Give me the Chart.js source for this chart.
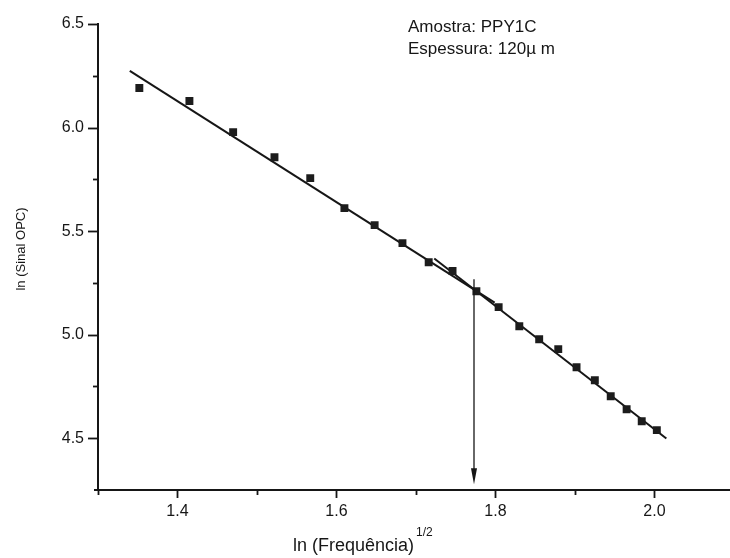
<!DOCTYPE html>
<html>
<head>
<meta charset="utf-8">
<script src="https://cdn.jsdelivr.net/npm/chart.js@4.4.1/dist/chart.umd.min.js"></script>
<style>
  html, body { margin: 0; padding: 0; background: #fff; }
  #wrap { width: 730px; height: 558px; position: relative; }
</style>
</head>
<body>
<div id="wrap"><canvas id="c" width="730" height="558"></canvas></div>
<script>
// ---- data ----
const freqX = [1.352, 1.415, 1.470, 1.522, 1.567, 1.610, 1.648, 1.683, 1.716, 1.746, 1.776,
               1.804, 1.830, 1.855, 1.879, 1.902, 1.925, 1.945, 1.965, 1.984, 2.003];
const signalY = [6.191, 6.128, 5.978, 5.857, 5.756, 5.611, 5.529, 5.442, 5.350, 5.307, 5.210,
                 5.133, 5.041, 4.978, 4.930, 4.843, 4.780, 4.703, 4.640, 4.582, 4.539];
const fit1X = [1.340, 1.799];
const fit1Y = [6.274, 5.155];
const fit2X = [1.723, 2.015];
const fit2Y = [5.368, 4.499];
const arrowX = 1.773;
const arrowYTop = 5.268;
const arrowYTip = 4.278;
const xMajorTicks = [1.4, 1.6, 1.8, 2.0];
const xMinorTicks = [1.3, 1.5, 1.7, 1.9];
const yMajorTicks = [4.5, 5.0, 5.5, 6.0, 6.5];
const yMinorTicks = [4.75, 5.25, 5.75, 6.25];
const xTitle = 'ln (Frequência)';
const xTitleSup = '1/2';
const yTitle = 'ln (Sinal OPC)';
const noteLines = ['Amostra: PPY1C', 'Espessura: 120µ m'];

const FONT = '"Liberation Sans", Arial, sans-serif';
const INK = '#161616';

const points = freqX.map((x, i) => ({ x: x, y: signalY[i] }));
const fit1 = fit1X.map((x, i) => ({ x: x, y: fit1Y[i] }));
const fit2 = fit2X.map((x, i) => ({ x: x, y: fit2Y[i] }));

const decorPlugin = {
  id: 'decor',
  afterDraw(chart) {
    const ctx = chart.ctx;
    const xs = chart.scales.x, ys = chart.scales.y;
    const ca = chart.chartArea;
    ctx.save();
    ctx.strokeStyle = INK;
    ctx.fillStyle = INK;
    // extend the x axis line a little beyond the plot, as in the original
    ctx.lineWidth = 2;
    ctx.beginPath(); ctx.moveTo(ca.left - 4, ca.bottom); ctx.lineTo(chart.width, ca.bottom); ctx.stroke();
    ctx.lineWidth = 1.8;
    // x ticks (outside, downward)
    const drawX = (v, len) => {
      const px = Math.round(xs.getPixelForValue(v)) + 0.5;
      ctx.beginPath(); ctx.moveTo(px, ca.bottom); ctx.lineTo(px, ca.bottom + len); ctx.stroke();
    };
    xMajorTicks.forEach(v => drawX(v, 8));
    xMinorTicks.forEach(v => drawX(v, 5));
    // y ticks (outside, leftward)
    const drawY = (v, len) => {
      const py = Math.round(ys.getPixelForValue(v)) + 0.5;
      ctx.beginPath(); ctx.moveTo(ca.left, py); ctx.lineTo(ca.left - len, py); ctx.stroke();
    };
    yMajorTicks.forEach(v => drawY(v, 10));
    yMinorTicks.forEach(v => drawY(v, 5));

    // arrow
    const ax = xs.getPixelForValue(arrowX);
    const ay0 = ys.getPixelForValue(arrowYTop);
    const ay1 = ys.getPixelForValue(arrowYTip);
    ctx.lineWidth = 1.3;
    ctx.beginPath(); ctx.moveTo(ax, ay0); ctx.lineTo(ax, ay1 - 12); ctx.stroke();
    ctx.beginPath();
    ctx.moveTo(ax, ay1);
    ctx.lineTo(ax - 3, ay1 - 16);
    ctx.lineTo(ax + 3, ay1 - 16);
    ctx.closePath(); ctx.fill();

    // x title with superscript
    ctx.textBaseline = 'alphabetic';
    ctx.textAlign = 'left';
    ctx.font = '18px ' + FONT;
    const tx = 293, ty = 551;
    ctx.fillText(xTitle, tx, ty);
    const w = ctx.measureText(xTitle).width;
    ctx.font = '12px ' + FONT;
    ctx.fillText(xTitleSup, tx + w + 2, ty - 15);

    // y title rotated
    ctx.save();
    ctx.translate(25, 249);
    ctx.rotate(-Math.PI / 2);
    ctx.textAlign = 'center';
    ctx.font = '13px ' + FONT;
    ctx.fillText(yTitle, 0, 0);
    ctx.restore();

    // note text
    ctx.font = '17px ' + FONT;
    ctx.textAlign = 'left';
    ctx.fillText(noteLines[0], 408, 32);
    ctx.fillText(noteLines[1], 408, 54);
    ctx.restore();
  }
};

new Chart(document.getElementById('c'), {
  type: 'scatter',
  data: {
    datasets: [
      {
        label: 'data',
        data: points,
        pointStyle: 'rect',
        pointRadius: 5.6,
        pointHoverRadius: 5.6,
        backgroundColor: '#1c1c1c',
        borderColor: '#1c1c1c',
        borderWidth: 0,
        showLine: false,
        order: 1
      },
      {
        label: 'fit1',
        data: fit1,
        showLine: true,
        pointRadius: 0,
        borderColor: INK,
        borderWidth: 2,
        fill: false,
        order: 2
      },
      {
        label: 'fit2',
        data: fit2,
        showLine: true,
        pointRadius: 0,
        borderColor: INK,
        borderWidth: 2,
        fill: false,
        order: 2
      }
    ]
  },
  options: {
    responsive: false,
    animation: false,
    devicePixelRatio: 1,
    layout: { padding: { top: 24, right: 0, left: 0, bottom: 0 } },
    plugins: { legend: { display: false }, tooltip: { enabled: false } },
    scales: {
      x: {
        type: 'linear',
        min: 1.3,
        max: 2.088,
        grid: { display: false, drawTicks: false },
        border: { display: true, color: INK, width: 2 },
        afterBuildTicks: (s) => { s.ticks = xMajorTicks.map(v => ({ value: v })); },
        afterFit: (s) => { s.height = 68; },
        ticks: {
          padding: 12,
          color: INK,
          font: { family: FONT, size: 16 },
          callback: (v) => Number(v).toFixed(1),
          maxRotation: 0
        }
      },
      y: {
        type: 'linear',
        min: 4.25,
        max: 6.5,
        grid: { display: false, drawTicks: false },
        border: { display: true, color: INK, width: 2 },
        afterBuildTicks: (s) => { s.ticks = yMajorTicks.map(v => ({ value: v })); },
        afterFit: (s) => { s.width = 98; },
        ticks: {
          padding: 14,
          color: INK,
          font: { family: FONT, size: 16 },
          callback: (v) => Number(v).toFixed(1)
        }
      }
    }
  },
  plugins: [decorPlugin]
});
</script>
</body>
</html>
